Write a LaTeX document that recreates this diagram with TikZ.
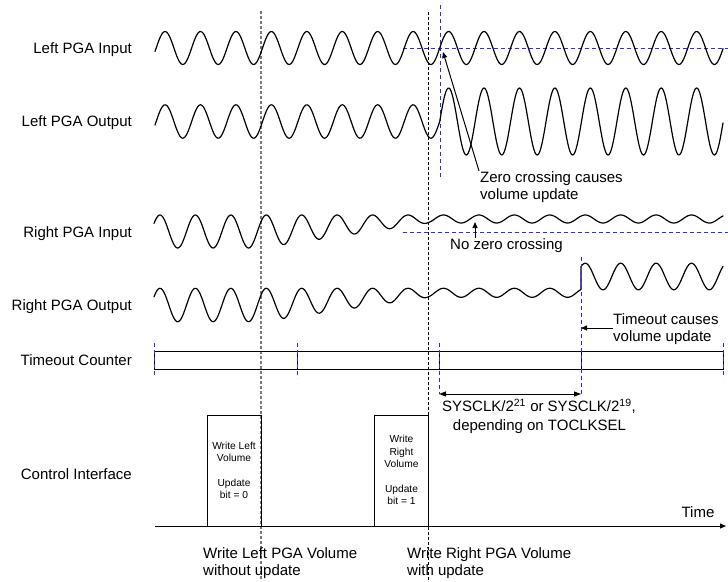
\documentclass[tikz,border=0pt]{standalone}
\usepackage{fontspec}
\setmainfont{Liberation Sans}
\usetikzlibrary{arrows.meta}
\definecolor{dblue}{RGB}{40,40,255}
\definecolor{dgray}{RGB}{120,120,120}
\begin{document}
\begin{tikzpicture}[x=1pt,y=-1pt,
  lbl/.style={font=\fontsize{15}{17.5}\selectfont, inner sep=0pt},
  side/.style={lbl, anchor=base east},
  boxtxt/.style={font=\fontsize{10.2}{12.3}\selectfont, inner sep=0pt, align=center, anchor=north},
  wave/.style={line width=1.2pt, line join=round, line cap=round},
  bdash/.style={dblue, line width=1pt, dash pattern=on 4pt off 3pt},
  kdash/.style={black, line width=0.9pt, dash pattern=on 3pt off 2pt},
  gdash/.style={dgray, line width=1.2pt, dash pattern=on 3pt off 2pt},
  tip/.style={-{Triangle[length=6pt,width=5pt]}},
  dtip/.style={{Triangle[length=7pt,width=5pt]}-{Triangle[length=7pt,width=5pt]}},
  frame/.style={line width=1pt},
  ctlbox/.style={draw, frame, minimum width=54pt, minimum height=111pt, inner sep=0pt}
]
\useasboundingbox (0,0) rectangle (728,581);

% row labels
\node[side] (lin)  at (132,53.3) {Left PGA Input};
\node[side] (lout) at (132,126)  {Left PGA Output};
\node[side] (rin)  at (132,237)  {Right PGA Input};
\node[side] (rout) at (132,310)  {Right PGA Output};
\node[side] (tc)   at (132,365)  {Timeout Counter};
\node[side] (ci)   at (132,479)  {Control Interface};

% marker lines
\draw[gdash] (261,11) -- (261,581);
\draw[kdash] (428,12) -- (428,581);
\draw[bdash] (440,5) -- (440,177);
\draw[bdash] (403,48) -- (728,48);
\draw[bdash] (403,232) -- (728,232);

% waves (10.158 = 360/35.44)
\draw[wave] plot[domain=155:723,samples=500] (\x,{48-16.5*sin(10.158*(\x-156.2))});
\draw[wave] plot[domain=155:439.6,samples=300] (\x,{121.5-16.7*sin(10.158*(\x-156.2))})
  -- plot[domain=439.6:723,samples=300] (\x,{121.5-33.5*sin(10.158*(\x-156.2))});
\draw[wave] plot[domain=154:723,samples=600]
  (\x,{215+(16.5-12.5*min(max((\x-261)/167,0),1))*(1-sin(10.158*(\x-151.1)))});
\draw[wave] plot[domain=154:581,samples=450]
  (\x,{288.3+(16.7-12.2*min(max((\x-261)/167,0),1))*(1-sin(10.158*(\x-151.1)))})
  -- plot[domain=581:723,samples=150] (\x,{276.5-13.3*sin(10.158*(\x-151.1))});

% timeout counter
\draw[frame] (154,351) rectangle (723,369);
\foreach \tx in {297,439,581} \draw[frame] (\tx,351) -- (\tx,369);
\draw[bdash] (154,343) -- (154,378);
\draw[bdash] (297,343) -- (297,378);
\draw[bdash] (439,343) -- (439,394);
\draw[bdash] (581,257) -- (581,394);
\draw[bdash] (723,343) -- (723,378);
\coordinate (t3) at (439,394);
\coordinate (t4) at (581,394);
\draw[frame, dtip] (t3) -- (t4);
\node[lbl, anchor=base] (sys1) at (539,411.7) {SYSCLK/2\textsuperscript{21} or SYSCLK/2\textsuperscript{19},};
\node[lbl, anchor=base] (sys2) at (539.5,430.5) {depending on TOCLKSEL};

% annotations
\coordinate (zcpt) at (443,52);
\node[lbl, anchor=base west] (zc1) at (480,182) {Zero crossing causes};
\node[lbl, anchor=base west] (zc2) at (480,199.5) {volume update};
\draw[frame, tip] ([xshift=-1pt]zc1.north west) -- (zcpt);

\coordinate (nzpt) at (475,222);
\node[lbl, anchor=base west] (nz) at (450,249) {No zero crossing};
\draw[frame, tip] (nzpt |- nz.north) -- (nzpt);

\coordinate (topt) at (581,328);
\node[lbl, anchor=base west] (to1) at (613,324) {Timeout causes};
\node[lbl, anchor=base west] (to2) at (613,341.7) {volume update};
\draw[frame, tip] (to1.west |- topt) -- (topt);

% control interface
\node[ctlbox] (boxL) at (234,470.5) {};
\node[ctlbox] (boxR) at (401.5,470.5) {};
\node[boxtxt] (txL) at (234,441.7) {Write Left\\Volume\\[12.3pt]Update\\bit = 0};
\node[boxtxt] (txR) at (401.5,435.4) {Write\\Right\\Volume\\[12.3pt]Update\\bit = 1};
\coordinate (ax0) at (155,526);
\coordinate (ax1) at (726,526);
\draw[frame, tip] (ax0) -- (ax1);
\node[lbl, anchor=base] (time) at (698,517.3) {Time};

\node[lbl, anchor=base west] (wl1) at (203,558.3) {Write Left PGA Volume};
\node[lbl, anchor=base west] (wl2) at (203,575.5) {without update};
\node[lbl, anchor=base west] (wr1) at (407,558.3) {Write Right PGA Volume};
\node[lbl, anchor=base west] (wr2) at (407,575.5) {with update};
\end{tikzpicture}
\end{document}
